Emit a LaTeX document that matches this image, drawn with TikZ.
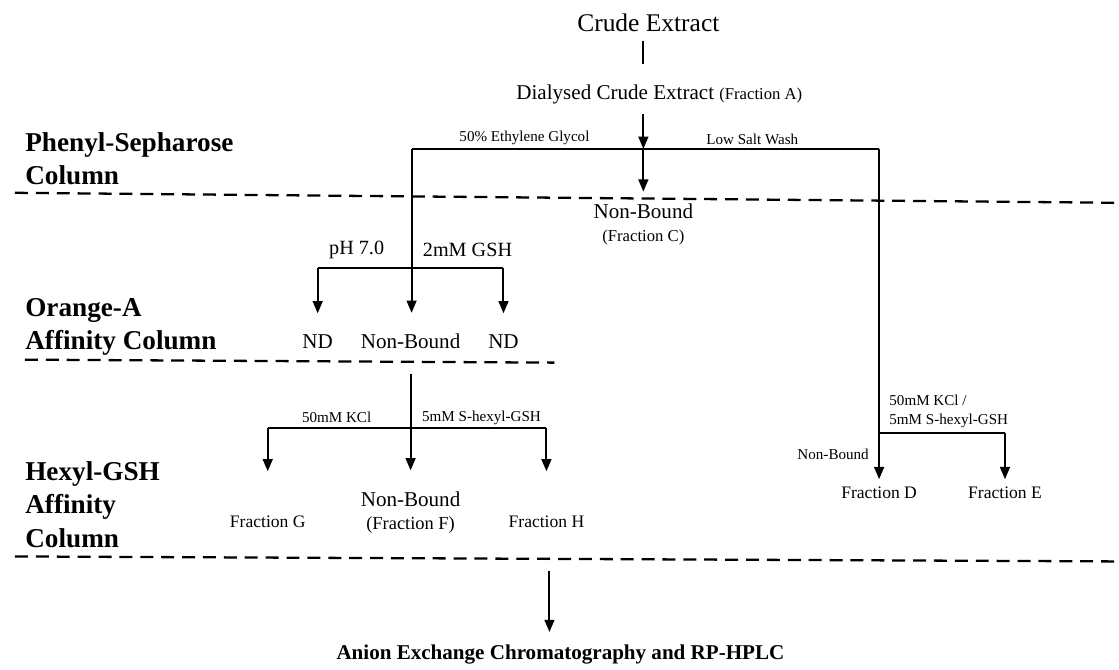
\documentclass[tikz,border=0pt]{standalone}
\usepackage{fontspec}
\setmainfont{Liberation Serif}
\usetikzlibrary{arrows.meta}

\begin{document}
\begin{tikzpicture}[x=0.02cm, y=-0.02cm,
  link/.style={line width=1.15pt},
  arr/.style={link, -{Triangle[length=7pt, width=5.6pt]}},
  sep/.style={line width=1.3pt, dash pattern=on 7.4pt off 4.5pt},
  cond/.style={font=\fontsize{8.6}{10.5}\selectfont, inner sep=0pt},
  res/.style={font=\fontsize{12}{13}\selectfont, inner sep=0pt, align=center},
  frac/.style={font=\fontsize{10}{12}\selectfont, inner sep=0pt},
  col/.style={font=\fontsize{15.5}{19}\selectfont\bfseries, inner sep=0pt, align=left, anchor=west}]
\fill[white] (0,0) rectangle (1119,670);
% column boundaries
\draw[sep] (15,193) -- (1119,203);
\draw[sep] (25,360) -- (555,363);
\draw[sep] (15,557) -- (1119,562);
% column names
\node[col] (phenyl) at (25,159) {Phenyl-Sepharose\\Column};
\node[col] (orange) at (25,327) {Orange-A\\Affinity Column};
\node[col] (hexyl) at (25,505) {Hexyl-GSH\\Affinity\\Column};
% extract
\coordinate (top) at (644,149);
\coordinate (lft) at (412,149);
\coordinate (rgt) at (880,149);
\node[font=\fontsize{14.5}{17}\selectfont, inner sep=0pt] (crude) at (649,23) {Crude Extract};
\node[font=\fontsize{12}{14}\selectfont, inner sep=0pt] (dial) at (660,95)
  {Dialysed Crude Extract {\fontsize{9.5}{11}\selectfont(Fraction A)}};
\draw[link, shorten <=5pt, shorten >=12pt] (crude.south -| top) -- (dial.north -| top);
\draw[arr, shorten <=5.5pt] (dial.south -| top) -- (top);
\draw[link] (lft) -- (rgt);
\node[cond] (glycol) at (525,138) {50\% Ethylene Glycol};
\node[cond] (wash) at (753,140) {Low Salt Wash};
% phenyl-sepharose non-bound
\node[res] (nbC) at (644,225) {Non-Bound\\{\fontsize{9.5}{11}\selectfont(Fraction C)}};
\draw[arr, shorten >=7pt] (top) -- (nbC.north);
% orange-A column
\coordinate (ol) at (318,268);
\coordinate (or) at (504,268);
\node[res] (ndL) at (318,342) {ND};
\node[res] (nbO) at (411,342) {Non-Bound};
\node[res] (ndR) at (504,342) {ND};
\node[res, font=\fontsize{11.5}{13}\selectfont] (ph) at (357,250) {pH 7.0};
\node[res, font=\fontsize{11.5}{13}\selectfont] (gsh) at (468,250) {2mM GSH};
\draw[arr, shorten >=12pt] (lft) -- (lft |- nbO.north);
\draw[link] (ol) -- (or);
\draw[arr, shorten >=12pt] (ol) -- (ndL.north);
\draw[arr, shorten >=12pt] (or) -- (ndR.north);
% hexyl-GSH column
\coordinate (hl) at (268,428);
\coordinate (hr) at (547,428);
\node[frac] (fG) at (268,522) {Fraction G};
\node[res] (nbF) at (411,513) {Non-Bound\\{\fontsize{10.5}{12}\selectfont(Fraction F)}};
\node[frac] (fH) at (547,522) {Fraction H};
\node[cond] (kcl) at (337,418) {50mM KCl};
\node[cond] (hex) at (482,418) {5mM S-hexyl-GSH};
\draw[arr, shorten <=14pt, shorten >=12pt] (nbO.south) -- (nbF.north);
\draw[link] (hl) -- (hr);
\draw[arr, shorten >=25pt] (hl) -- (fG.north);
\draw[arr, shorten >=25pt] (hr) -- (fH.north);
% low salt wash branch
\coordinate (re) at (1006,433);
\node[frac] (fD) at (880,493) {Fraction D};
\node[frac] (fE) at (1006,493) {Fraction E};
\node[cond, align=left, anchor=west] (elute) at (890,412) {50mM KCl /\\5mM S-hexyl-GSH};
\node[cond, anchor=east] (nbD) at (870,455) {Non-Bound};
\draw[arr, shorten >=4pt] (rgt) -- (fD.north);
\draw[link] (rgt |- re) -- (re);
\draw[arr, shorten >=4pt] (re) -- (fE.north);
% final step
\coordinate (bt) at (550,572);
\node[font=\fontsize{12}{14}\selectfont\bfseries, inner sep=0pt] (anion) at (561,655)
  {Anion Exchange Chromatography and RP-HPLC};
\draw[arr, shorten >=7pt] (bt) -- (anion.north -| bt);
\end{tikzpicture}
\end{document}
